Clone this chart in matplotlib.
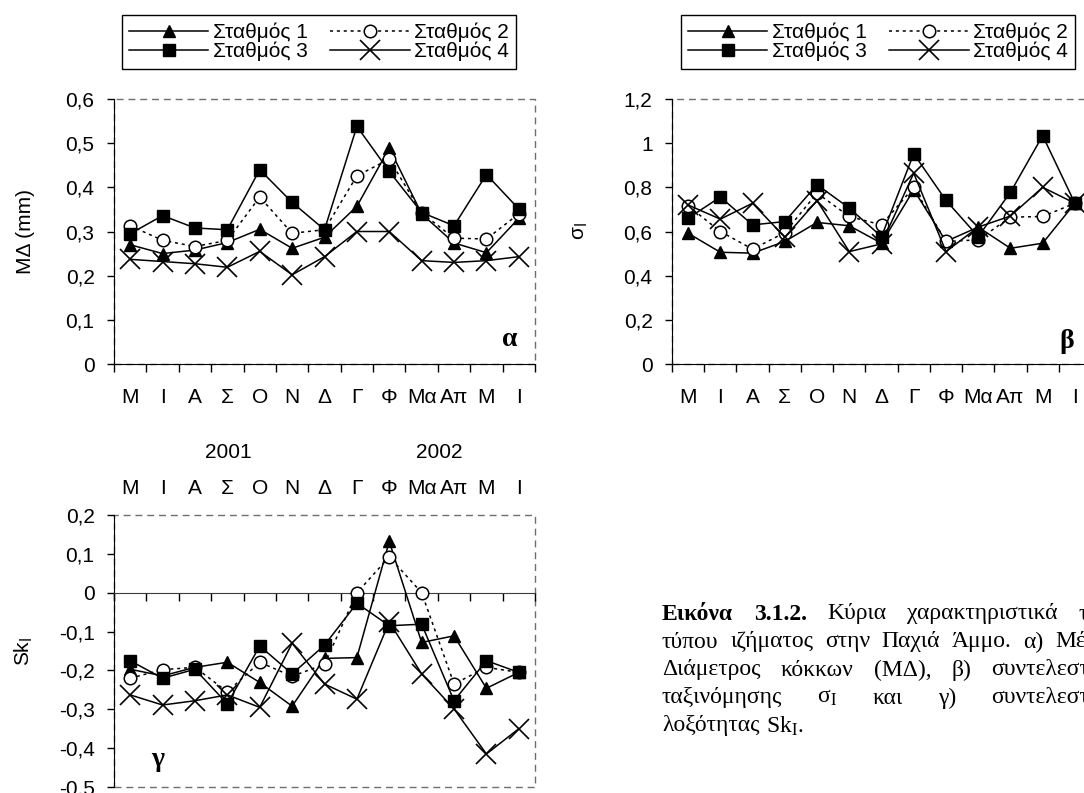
import matplotlib
matplotlib.use("Agg")
import matplotlib.pyplot as plt
from matplotlib.patches import Rectangle
from matplotlib.ticker import FuncFormatter
import numpy as np

plt.rcParams["font.family"] = ["Liberation Sans", "DejaVu Sans"]

# months May 2001 - June 2002
months = ["Μ", "Ι", "Α", "Σ", "Ο", "Ν", "Δ", "Γ", "Φ", "Μα", "Απ", "Μ", "Ι"]
stations = ["Σταθμός 1", "Σταθμός 2", "Σταθμός 3", "Σταθμός 4"]
years = ["2001", "2002"]

# mean diameter MΔ (mm)
md_st1 = [0.270, 0.250, 0.258, 0.275, 0.305, 0.262, 0.287, 0.357, 0.489, 0.340, 0.274, 0.252, 0.330]
md_st2 = [0.313, 0.280, 0.266, 0.280, 0.378, 0.296, 0.304, 0.426, 0.464, 0.342, 0.285, 0.283, 0.340]
md_st3 = [0.295, 0.336, 0.308, 0.304, 0.440, 0.366, 0.304, 0.538, 0.436, 0.343, 0.313, 0.429, 0.351]
md_st4 = [0.237, 0.232, 0.227, 0.219, 0.255, 0.202, 0.243, 0.300, 0.300, 0.234, 0.230, 0.234, 0.243]

# sorting coefficient σI
sort_st1 = [0.592, 0.506, 0.502, 0.555, 0.641, 0.626, 0.547, 0.789, 0.555, 0.620, 0.524, 0.547, 0.728]
sort_st2 = [0.716, 0.600, 0.520, 0.595, 0.774, 0.668, 0.630, 0.800, 0.555, 0.562, 0.665, 0.668, 0.728]
sort_st3 = [0.660, 0.756, 0.630, 0.645, 0.812, 0.706, 0.577, 0.952, 0.741, 0.577, 0.777, 1.034, 0.728]
sort_st4 = [0.720, 0.656, 0.728, 0.574, 0.740, 0.509, 0.544, 0.864, 0.509, 0.620, 0.670, 0.800, 0.728]

# skewness SkI
skew_st1 = [-0.197, -0.214, -0.192, -0.179, -0.231, -0.292, -0.169, -0.167, 0.132, -0.128, -0.111, -0.246, -0.205]
skew_st2 = [-0.220, -0.198, -0.192, -0.255, -0.179, -0.215, -0.184, 0.000, 0.092, 0.000, -0.235, -0.192, -0.205]
skew_st3 = [-0.175, -0.220, -0.197, -0.286, -0.137, -0.209, -0.135, -0.027, -0.085, -0.081, -0.278, -0.175, -0.205]
skew_st4 = [-0.263, -0.289, -0.278, -0.263, -0.295, -0.130, -0.235, -0.274, -0.075, -0.209, -0.299, -0.415, -0.350]

W, H = 1084, 793
FS = 15
fig = plt.figure(figsize=(W / 100, H / 100), dpi=100)


def px_box(x0, y0, x1, y1):
    return [x0 / W, 1 - y1 / H, (x1 - x0) / W, (y1 - y0) / H]


series_style = [
    dict(color="black", lw=1.1, marker="^", ms=9, mfc="black", mec="black", zorder=3),
    dict(color="black", lw=1.1, ls=(0, (2, 2.5)), marker="o", ms=9, mfc="white", mec="black", mew=1.1, zorder=4),
    dict(color="black", lw=1.1, marker="s", ms=9, mfc="black", mec="black", zorder=5),
    dict(color="black", lw=1.1, marker="x", ms=14, mec="black", mew=1.2, zorder=6),
]


def comma_fmt(v, pos):
    v = round(v, 2) + 0.0
    return f"{v:g}".replace(".", ",")


def draw_panel(ax, data, ylim, ystep, zero_axis=False):
    x = np.arange(len(months))
    lines = []
    for vals, st, name in zip(data, series_style, stations):
        ln, = ax.plot(x, vals, label=name, clip_on=False, **st)
        lines.append(ln)

    ax.set_xlim(-0.5, len(months) - 0.5)
    ax.set_ylim(*ylim)
    ax.set_yticks(np.arange(ylim[0], ylim[1] + ystep / 2, ystep))
    ax.yaxis.set_major_formatter(FuncFormatter(comma_fmt))
    ax.tick_params(axis="y", direction="out", length=5, width=1, pad=9, labelsize=FS)

    # boundaries between months carry the tick marks, centres carry the names
    ax.set_xticks(np.arange(-0.5, len(months), 1))
    ax.set_xticks(x, minor=True)
    ax.set_xticklabels(months, minor=True)
    ax.tick_params(axis="x", which="major", direction="out", length=6, width=1,
                   bottom=True, top=False, labelbottom=False, labeltop=False)
    if zero_axis:
        ax.tick_params(axis="x", which="minor", length=0, bottom=False, top=False,
                       labelbottom=False, labeltop=True, pad=12, labelsize=FS)
    else:
        ax.tick_params(axis="x", which="minor", length=0, pad=17, labelsize=FS)

    # dashed plot-area border, solid axes on top of it
    ax.add_patch(Rectangle((0, 0), 1, 1, transform=ax.transAxes, fill=False,
                           ec="#6e6e6e", lw=1.0, ls=(0, (5, 3.5)), clip_on=False, zorder=1))
    ax.spines["top"].set_visible(False)
    ax.spines["right"].set_visible(False)
    ax.spines["left"].set_color("black")
    if zero_axis:
        ax.spines["bottom"].set_position(("data", 0))
        ax.spines["bottom"].set_color("#3c3c3c")
    else:
        ax.spines["bottom"].set_color("black")
    ax.patch.set_visible(False)
    return lines


ax_a = fig.add_axes(px_box(114, 99, 535, 364))
ax_b = fig.add_axes(px_box(672, 99, 1091, 364))
ax_g = fig.add_axes(px_box(114, 515, 535, 787))

lines_a = draw_panel(ax_a, [md_st1, md_st2, md_st3, md_st4], (0, 0.6), 0.1)
lines_b = draw_panel(ax_b, [sort_st1, sort_st2, sort_st3, sort_st4], (0, 1.2), 0.2)
draw_panel(ax_g, [skew_st1, skew_st2, skew_st3, skew_st4], (-0.5, 0.2), 0.1, zero_axis=True)

ax_a.set_ylabel("ΜΔ (mm)", fontsize=FS)
ax_a.yaxis.set_label_coords((35 - 114) / 421, 0.5)
ax_b.set_ylabel("σ$_{\\rm I}$", fontsize=FS)
ax_b.yaxis.set_label_coords((590 - 672) / 419, 0.5)
ax_g.set_ylabel("Sk$_{\\rm I}$", fontsize=FS)
ax_g.yaxis.set_label_coords((35 - 114) / 421, 0.5)

serif_bold = dict(family=["Liberation Serif", "DejaVu Serif"], weight="bold", fontsize=20,
                  ha="center", va="center")
fig.text(510 / W, 1 - 340 / H, "α", **serif_bold)
fig.text(1067 / W, 1 - 341 / H, "β", **serif_bold)
fig.text(158 / W, 1 - 760 / H, "γ", **serif_bold)

# year labels between the two month rows
fig.text(228 / W, 1 - 452 / H, years[0], ha="center", va="center", fontsize=FS)
fig.text(439 / W, 1 - 452 / H, years[1], ha="center", va="center", fontsize=FS)


def add_legend(lines, x0):
    order = [0, 2, 1, 3]
    leg = fig.legend([lines[i] for i in order], [stations[i] for i in order], ncol=2,
                     loc="upper left", bbox_to_anchor=(x0 / W, 1 - 15 / H),
                     frameon=True, fancybox=False, edgecolor="black", framealpha=1,
                     handlelength=3.8, handletextpad=0.2, columnspacing=1.1,
                     labelspacing=0.0, borderpad=0.35, borderaxespad=0, fontsize=FS,
                     numpoints=1)
    leg.get_frame().set_linewidth(1.0)
    return leg


add_legend(lines_a, 122)
add_legend(lines_b, 681)

# caption, justified to a right edge just past the page border
serif = dict(family=["Liberation Serif", "DejaVu Serif"], fontsize=17, math_fontfamily="stix")
caption = [
    [("Εικόνα", True), ("3.1.2.", True), ("Κύρια", False), ("χαρακτηριστικά", False), ("του", False)],
    [("τύπου", False), ("ιζήματος", False), ("στην", False), ("Παχιά", False), ("Άμμο.", False),
     ("α)", False), ("Μέση", False)],
    [("Διάμετρος", False), ("κόκκων", False), ("(ΜΔ),", False), ("β)", False), ("συντελεστής", False)],
    [("ταξινόμησης", False), ("σ$_{\\rm I}$", False), ("και", False), ("γ)", False), ("συντελεστής", False)],
    [("λοξότητας", False), ("Sk$_{\\rm I}$.", False)],
]
cap_left, cap_right = 662, 1111
cap_top, cap_step = 614, 28

renderer = fig.canvas.get_renderer()
for row, words in enumerate(caption):
    y = 1 - (cap_top + row * cap_step) / H
    texts = [fig.text(0, y, w, va="center", ha="left",
                      weight="bold" if b else "normal", **serif) for w, b in words]
    widths = [t.get_window_extent(renderer).width for t in texts]
    if row == len(caption) - 1:
        gap = 6
    else:
        gap = (cap_right - cap_left - sum(widths)) / (len(words) - 1)
    xpos = cap_left
    for t, w in zip(texts, widths):
        t.set_x(xpos / W)
        xpos += w + gap

fig.savefig("out.png", dpi=100)
